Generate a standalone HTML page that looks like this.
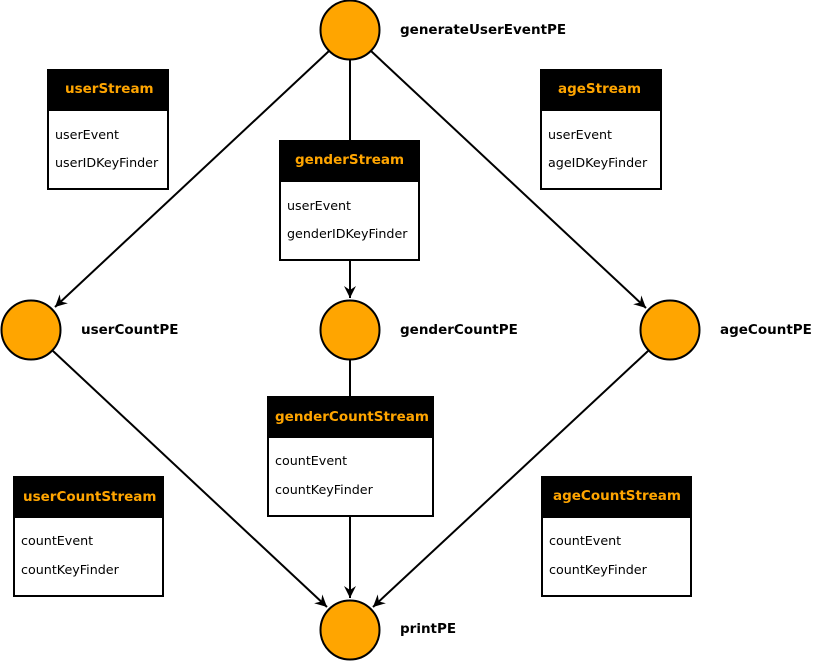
<!DOCTYPE html>
<html><head><meta charset="utf-8"><style>
html,body{margin:0;padding:0;background:#fff;}
svg{display:block;font-family:"DejaVu Sans","Liberation Sans",sans-serif;}
.h{fill:#ffa500;font-weight:bold;font-size:13.5px;}
.b{fill:#000;font-size:12.7px;}
.l{fill:#000;font-weight:bold;font-size:13.5px;}
</style></head><body>
<svg width="813" height="662" viewBox="0 0 813 662">
<defs><marker id="a" markerWidth="14" markerHeight="14" refX="12" refY="6" orient="auto" markerUnits="userSpaceOnUse"><path d="M0,0 L12,6 L0,12 L4,6 z" fill="#000"/></marker></defs>
<g stroke="#000" stroke-width="2" fill="none">
<line x1="329" y1="51" x2="55" y2="307" marker-end="url(#a)"/>
<line x1="371" y1="51" x2="646" y2="308" marker-end="url(#a)"/>
<line x1="350" y1="60" x2="350" y2="141"/>
<line x1="350" y1="260" x2="350" y2="298" marker-end="url(#a)"/>
<line x1="350" y1="360" x2="350" y2="397"/>
<line x1="350" y1="516" x2="350" y2="598" marker-end="url(#a)"/>
<line x1="53" y1="351" x2="327" y2="607" marker-end="url(#a)"/>
<line x1="648" y1="351" x2="373" y2="607" marker-end="url(#a)"/>
</g>
<g fill="#ffa500" stroke="#000" stroke-width="2">
<circle cx="350" cy="30" r="29.5"/>
<circle cx="31" cy="330" r="29.5"/>
<circle cx="350" cy="330" r="29.5"/>
<circle cx="670" cy="330" r="29.5"/>
<circle cx="350" cy="630" r="29.5"/>
</g>
<text class="l" x="400" y="34">generateUserEventPE</text>
<text class="l" x="81" y="334">userCountPE</text>
<text class="l" x="400" y="334">genderCountPE</text>
<text class="l" x="720" y="334">ageCountPE</text>
<text class="l" x="400" y="633">printPE</text>
<g stroke="#000" stroke-width="2">
<rect x="48" y="70" width="120" height="119" fill="#fff"/><rect x="48" y="70" width="120" height="40" fill="#000"/>
<rect x="280" y="141" width="139" height="119" fill="#fff"/><rect x="280" y="141" width="139" height="40" fill="#000"/>
<rect x="541" y="70" width="120" height="119" fill="#fff"/><rect x="541" y="70" width="120" height="40" fill="#000"/>
<rect x="268" y="397" width="165" height="119" fill="#fff"/><rect x="268" y="397" width="165" height="40" fill="#000"/>
<rect x="14" y="477" width="149" height="119" fill="#fff"/><rect x="14" y="477" width="149" height="40" fill="#000"/>
<rect x="542" y="477" width="149" height="119" fill="#fff"/><rect x="542" y="477" width="149" height="40" fill="#000"/>
</g>
<text class="h" x="65" y="93">userStream</text>
<text class="b" x="55" y="139">userEvent</text>
<text class="b" x="55" y="167">userIDKeyFinder</text>
<text class="h" x="295" y="164">genderStream</text>
<text class="b" x="287" y="210">userEvent</text>
<text class="b" x="287" y="238">genderIDKeyFinder</text>
<text class="h" x="558" y="93">ageStream</text>
<text class="b" x="548" y="139">userEvent</text>
<text class="b" x="548" y="167">ageIDKeyFinder</text>
<text class="h" x="275" y="421">genderCountStream</text>
<text class="b" x="275" y="465">countEvent</text>
<text class="b" x="275" y="494">countKeyFinder</text>
<text class="h" x="23" y="501">userCountStream</text>
<text class="b" x="21" y="545">countEvent</text>
<text class="b" x="21" y="574">countKeyFinder</text>
<text class="h" x="553" y="500">ageCountStream</text>
<text class="b" x="549" y="545">countEvent</text>
<text class="b" x="549" y="574">countKeyFinder</text>
</svg>
</body></html>
